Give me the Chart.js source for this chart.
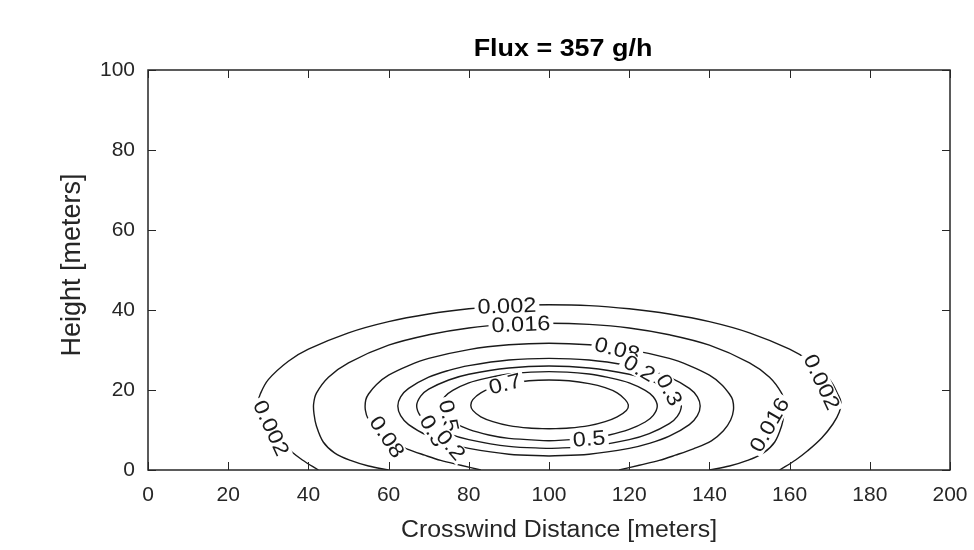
<!DOCTYPE html>
<html>
<head>
<meta charset="utf-8">
<title>Flux = 357 g/h</title>
<script src="https://cdn.jsdelivr.net/npm/chart.js@4.4.1/dist/chart.umd.min.js"></script>
<style>
    html, body { margin: 0; padding: 0; background: #fff; }
    #contenedor { width: 974px; height: 550px; }
</style>
</head>
<body>
<div id="contenedor"><canvas id="graficoPluma" width="974" height="550"></canvas></div>
<script>
/*******************************************************************************/
// Datos

const titulo = "Flux = 357 g/h";
const tituloX = "Crosswind Distance [meters]";
const tituloY = "Height [meters]";

const xTicks = [0, 20, 40, 60, 80, 100, 120, 140, 160, 180, 200];
const yTicks = [0, 20, 40, 60, 80, 100];

const niveles = ["0.002", "0.016", "0.08", "0.2", "0.3", "0.5", "0.7"];

const c0002 = [[42.5, 0], [38.5, 2.5], [35.5, 4.8], [32, 8], [29.5, 11.5], [28, 14.5], [27.5, 17],
    [28, 19], [30, 22.6], [35, 27.2], [40, 30.2], [50, 34.3], [60, 37.1], [70, 39], [80, 40.3],
    [90, 41.1], [100, 41.3], [110, 41.1], [120, 40.3], [130, 39], [140, 37.1], [150, 34.3],
    [160, 30.2], [165, 27.2], [170, 22.6], [172, 19], [172.8, 17], [172.4, 14.5], [170.8, 11.5],
    [168, 8], [164.5, 4.8], [161.5, 2.5], [157.5, 0]];

const c0016 = [[60, 0], [55, 1], [50.5, 2.4], [46.5, 4.3], [43.7, 7], [42, 11], [41.4, 14], [41.3, 16.5],
    [42, 19.2], [45, 23.2], [50, 26.8], [60, 31.2], [70, 33.8], [80, 35.5], [90, 36.4], [100, 36.7],
    [110, 36.4], [120, 35.5], [130, 33.8], [140, 31.2], [150, 26.8], [155, 23.2], [158, 19.2],
    [158.7, 16.5], [158.6, 14], [158, 11], [156.3, 7], [153.5, 4.3], [149.5, 2.4], [145, 1], [140, 0]];

const c008 = [[83, 0], [78, 1.2], [73, 2.4], [69, 3.7], [64.5, 5.3], [60, 7.3], [57, 9.8], [55, 12.5],
    [54.2, 15], [54.3, 17.5], [55, 19], [57, 21.4], [60, 23.7], [65, 26.1], [70, 27.9], [80, 30.1],
    [90, 31.3], [100, 31.7], [110, 31.3], [120, 30.1], [130, 27.9], [135, 26.1], [140, 23.7],
    [143, 21.4], [145, 19], [145.8, 17.5], [146, 15], [145.3, 12.5], [143.5, 9.8], [140.5, 7.3],
    [136, 5.3], [131.5, 3.7], [127.5, 2.4], [122.5, 1.2], [117.5, 0]];

const c02 = [[100, 3.5], [90, 3.95], [80, 5.4], [75, 6.65], [70, 8.45], [65, 11.35], [63, 13.6], [62.3, 16],
    [63, 18.3], [65, 20.4], [70, 23.2], [75, 24.9], [80, 26.1], [90, 27.5], [100, 27.9], [110, 27.5],
    [120, 26.1], [125, 24.9], [130, 23.2], [135, 20.4], [137, 18.3], [137.7, 16], [137, 13.6],
    [135, 11.35], [130, 8.45], [125, 6.65], [120, 5.4], [110, 3.95], [100, 3.5]];

const c03 = [[100, 5.4], [90, 5.9], [80, 7.6], [75, 9.1], [70, 11.6], [68, 13.4], [67, 16],
    [68, 18.45], [70, 20.2], [75, 22.5], [80, 23.95], [90, 25.5], [100, 26], [110, 25.5], [120, 23.95],
    [125, 22.5], [130, 20.2], [132, 18.45], [133, 16], [132, 13.4], [130, 11.6], [125, 9.1],
    [120, 7.6], [110, 5.9], [100, 5.4]];

const c05 = [[100, 7.3], [90, 7.9], [85, 8.75], [80, 10.15], [76, 12], [74, 13.65], [73, 16],
    [74, 18.3], [76, 19.9], [80, 21.8], [85, 23.1], [90, 24], [100, 24.6], [110, 24], [115, 23.1],
    [120, 21.8], [124, 19.9], [126, 18.3], [127, 16], [126, 13.65], [124, 12], [120, 10.15],
    [115, 8.75], [110, 7.9], [100, 7.3]];

const c07 = [[100, 10.3], [95, 10.5], [90, 11.1], [86, 12.1], [83, 13.3], [81, 14.9], [80.5, 16.2],
    [81, 17.6], [83, 19.3], [86, 20.6], [90, 21.6], [95, 22.3], [100, 22.5], [105, 22.3], [110, 21.6],
    [114, 20.6], [117, 19.3], [119, 17.6], [119.8, 16.2], [119.3, 14.9], [117, 13.3], [114, 12.1],
    [110, 11.1], [105, 10.5], [100, 10.3]];

const contornos = [c0002, c0016, c008, c02, c03, c05, c07];

// etiquetas de los contornos (texto, posicion en datos, angulo en grados)
const etiquetasTexto = ["0.002", "0.016", "0.08", "0.2", "0.3", "0.7", "0.5",
    "0.5", "0.3", "0.2", "0.08", "0.002", "0.016", "0.002"];
const etiquetasX = [89.5, 93, 117, 122.5, 130, 89, 110, 75, 71, 75.5, 59.6, 30.7, 155, 168];
const etiquetasY = [41, 36.4, 30.2, 25.4, 20, 21.5, 7.8, 13.5, 9.8, 6.2, 8.3, 10.5, 11.3, 22];
const etiquetasAngulo = [-2, -2, 14, 30, 62, -14, -4, 78, 60, 50, 56, 65, -60, 65];

/*******************************************************************************/
// Plugin: titulos, etiquetas, marco y marcas interiores

const fuente = '"Liberation Sans", Arial, Helvetica, sans-serif';
const colorEje = "#262626";

function textoEstirado(ctx, texto, x, y, estiramiento) {
    ctx.save();
    ctx.translate(x, y);
    ctx.scale(estiramiento, 1);
    ctx.fillText(texto, 0, 0);
    ctx.restore();
}

const pluginMarco = {
    id: "marco",
    beforeDraw(chart) {
        const ctx = chart.ctx;
        ctx.save();
        ctx.fillStyle = "#ffffff";
        ctx.fillRect(0, 0, chart.width, chart.height);
        ctx.restore();
    },
    afterDatasetsDraw(chart) {
        const ctx = chart.ctx;
        const sx = chart.scales.x;
        const sy = chart.scales.y;
        ctx.save();
        ctx.font = "21px " + fuente;
        ctx.textAlign = "center";
        ctx.textBaseline = "middle";
        etiquetasTexto.forEach((texto, i) => {
            const px = sx.getPixelForValue(etiquetasX[i]);
            const py = sy.getPixelForValue(etiquetasY[i]);
            const ancho = ctx.measureText(texto).width * 1.12;
            ctx.save();
            ctx.translate(px, py);
            ctx.rotate(etiquetasAngulo[i] * Math.PI / 180);
            ctx.fillStyle = "#ffffff";
            ctx.fillRect(-ancho / 2 - 3, -9, ancho + 6, 18);
            ctx.fillStyle = "#1a1a1a";
            ctx.scale(1.12, 1);
            ctx.fillText(texto, 0, 1);
            ctx.restore();
        });
        ctx.restore();
    },
    afterDraw(chart) {
        const ctx = chart.ctx;
        const area = chart.chartArea;
        const sx = chart.scales.x;
        const sy = chart.scales.y;
        ctx.save();
        ctx.strokeStyle = colorEje;
        ctx.lineWidth = 1.5;
        ctx.strokeRect(area.left, area.top, area.right - area.left, area.bottom - area.top);

        ctx.lineWidth = 1;
        const largo = 8;
        ctx.beginPath();
        xTicks.forEach((v) => {
            const px = Math.round(sx.getPixelForValue(v)) + 0.5;
            ctx.moveTo(px, area.bottom);
            ctx.lineTo(px, area.bottom - largo);
            ctx.moveTo(px, area.top);
            ctx.lineTo(px, area.top + largo);
        });
        yTicks.forEach((v) => {
            const py = Math.round(sy.getPixelForValue(v)) + 0.5;
            ctx.moveTo(area.left, py);
            ctx.lineTo(area.left + largo, py);
            ctx.moveTo(area.right, py);
            ctx.lineTo(area.right - largo, py);
        });
        ctx.stroke();

        // titulo
        const centro = (area.left + area.right) / 2;
        ctx.fillStyle = "#000000";
        ctx.font = "bold 23px " + fuente;
        ctx.textAlign = "center";
        ctx.textBaseline = "alphabetic";
        textoEstirado(ctx, titulo, centro + 14, 56, 1.17);

        // titulo eje x
        ctx.fillStyle = colorEje;
        ctx.font = "23px " + fuente;
        ctx.textBaseline = "middle";
        textoEstirado(ctx, tituloX, centro + 10, 531, 1.08);

        // titulo eje y
        ctx.save();
        ctx.translate(73, (area.top + area.bottom) / 2 - 5);
        ctx.rotate(-Math.PI / 2);
        ctx.font = "27px " + fuente;
        ctx.fillText(tituloY, 0, 0);
        ctx.restore();
        ctx.restore();
    }
};

/*******************************************************************************/
// Grafico

function crearGrafico() {
    const ctx = document.getElementById("graficoPluma").getContext("2d");

    const datasets = contornos.map((puntos, i) => ({
        label: niveles[i],
        data: puntos.map((p) => ({ x: p[0], y: p[1] })),
        showLine: true,
        borderColor: "#1a1a1a",
        borderWidth: 1.4,
        pointRadius: 0,
        tension: 0.35,
        fill: false
    }));

    new Chart(ctx, {
        type: "scatter",
        data: { datasets: datasets },
        options: {
            responsive: false,
            animation: false,
            layout: { padding: { top: 70, right: 24, left: 0, bottom: 0 } },
            plugins: {
                legend: { display: false },
                tooltip: { enabled: false }
            },
            scales: {
                x: {
                    type: "linear",
                    min: 0,
                    max: 200,
                    afterBuildTicks: (scale) => { scale.ticks = xTicks.map((v) => ({ value: v })); },
                    afterFit: (scale) => {
                        scale.height = 80;
                        scale.paddingRight = 0;
                        scale.paddingLeft = 0;
                    },
                    grid: { display: false, drawTicks: false },
                    border: { display: false },
                    ticks: {
                        color: colorEje,
                        padding: 13,
                        maxRotation: 0,
                        font: { family: fuente, size: 21 }
                    },
                    title: { display: false }
                },
                y: {
                    type: "linear",
                    min: 0,
                    max: 100,
                    afterBuildTicks: (scale) => { scale.ticks = yTicks.map((v) => ({ value: v })); },
                    afterFit: (scale) => {
                        scale.width = 148;
                        scale.paddingTop = 0;
                        scale.paddingBottom = 0;
                    },
                    grid: { display: false, drawTicks: false },
                    border: { display: false },
                    ticks: {
                        color: colorEje,
                        padding: 13,
                        font: { family: fuente, size: 21 }
                    },
                    title: { display: false }
                }
            }
        },
        plugins: [pluginMarco]
    });
}

crearGrafico();
</script>
</body>
</html>
